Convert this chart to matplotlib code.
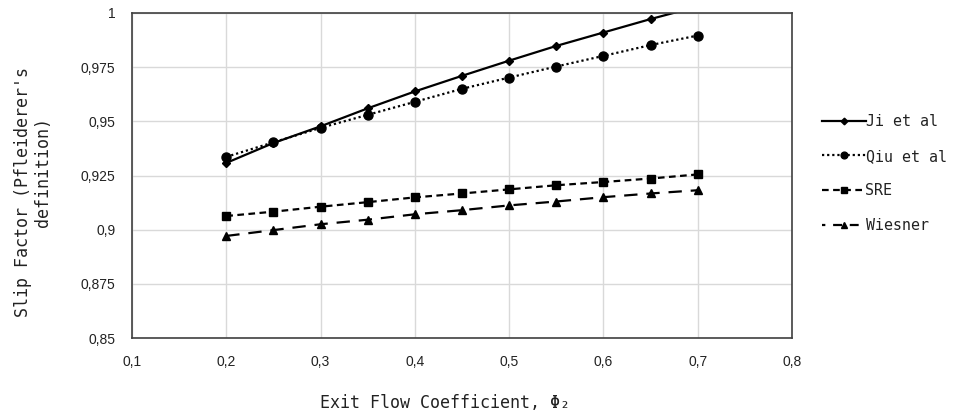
import matplotlib
matplotlib.use("Agg")
import matplotlib.pyplot as plt

phi = [0.2, 0.25, 0.3, 0.35, 0.4, 0.45, 0.5, 0.55, 0.6, 0.65, 0.7]
ji = [0.9308, 0.9400, 0.9477, 0.9560, 0.9638, 0.9710, 0.9780, 0.9848, 0.9910, 0.9972, 1.0030]
qiu = [0.9336, 0.9403, 0.9470, 0.9530, 0.9590, 0.9650, 0.9702, 0.9753, 0.9802, 0.9852, 0.9896]
sre = [0.9063, 0.9083, 0.9106, 0.9127, 0.9149, 0.9167, 0.9186, 0.9205, 0.9220, 0.9236, 0.9255]
wiesner = [0.8971, 0.8998, 0.9025, 0.9046, 0.9071, 0.9090, 0.9112, 0.9130, 0.9150, 0.9167, 0.9182]

xticks = [0.1, 0.2, 0.3, 0.4, 0.5, 0.6, 0.7, 0.8]
yticks = [0.85, 0.875, 0.9, 0.925, 0.95, 0.975, 1.0]
xtick_labels = ["0,1", "0,2", "0,3", "0,4", "0,5", "0,6", "0,7", "0,8"]
ytick_labels = ["0,85", "0,875", "0,9", "0,925", "0,95", "0,975", "1"]

W, H = 958, 416
fig = plt.figure(figsize=(W / 100, H / 100), dpi=100)
ax = fig.add_axes([132 / W, (H - 338) / H, (792 - 132) / W, (338 - 13) / H])

lw = 1.6
ax.plot(phi, ji, color="black", lw=lw, ls="-", marker="D", ms=4.5, label="Ji et al")
ax.plot(phi, qiu, color="black", lw=lw, ls=(0, (1, 1.3)), marker="o", ms=6.5, label="Qiu et al")
ax.plot(phi, sre, color="black", lw=lw, ls=(0, (3, 2)), marker="s", ms=6, label="SRE")
ax.plot(phi, wiesner, color="black", lw=lw, ls=(0, (6, 4)), marker="^", ms=6, label="Wiesner")

ax.set_xlim(0.1, 0.8)
ax.set_ylim(0.85, 1.0)
ax.set_xticks(xticks)
ax.set_xticklabels(xtick_labels)
ax.set_yticks(yticks)
ax.set_yticklabels(ytick_labels)
ax.grid(True, color="#d9d9d9", lw=1.0)
ax.set_axisbelow(True)
ax.tick_params(length=0, pad=12, labelsize=10)
for lab in ax.get_xticklabels() + ax.get_yticklabels():
    lab.set_family("Liberation Sans")
    lab.set_color("#222222")
for s in ax.spines.values():
    s.set_color("#404040")
    s.set_linewidth(1.2)

mono = "DejaVu Sans Mono"
fig.text(445 / W, 1 - 403 / H, "Exit Flow Coefficient, Φ₂", ha="center", va="center",
         family=mono, fontsize=12, color="#222222")
fig.text(23 / W, 1 - 192 / H, "Slip Factor (Pfleiderer's", ha="center", va="center",
         rotation=90, family=mono, fontsize=12, color="#222222")
fig.text(43 / W, 1 - 172 / H, "definition)", ha="center", va="center",
         rotation=90, family=mono, fontsize=12, color="#222222")

leg = fig.legend(loc="upper left", bbox_to_anchor=(816 / W, 1 - 108 / H), frameon=False,
                 prop={"family": mono, "size": 10.8}, handlelength=2.9, handletextpad=0.0,
                 labelspacing=1.31, borderaxespad=0, markerscale=0.75)
for t in leg.get_texts():
    t.set_color("#222222")
# Wiesner legend handle: shift dash so a dash shows on both sides of the marker
leg.get_lines()[3].set_linestyle((2.5, (4, 3.5)))

fig.savefig("out.png", dpi=100)
